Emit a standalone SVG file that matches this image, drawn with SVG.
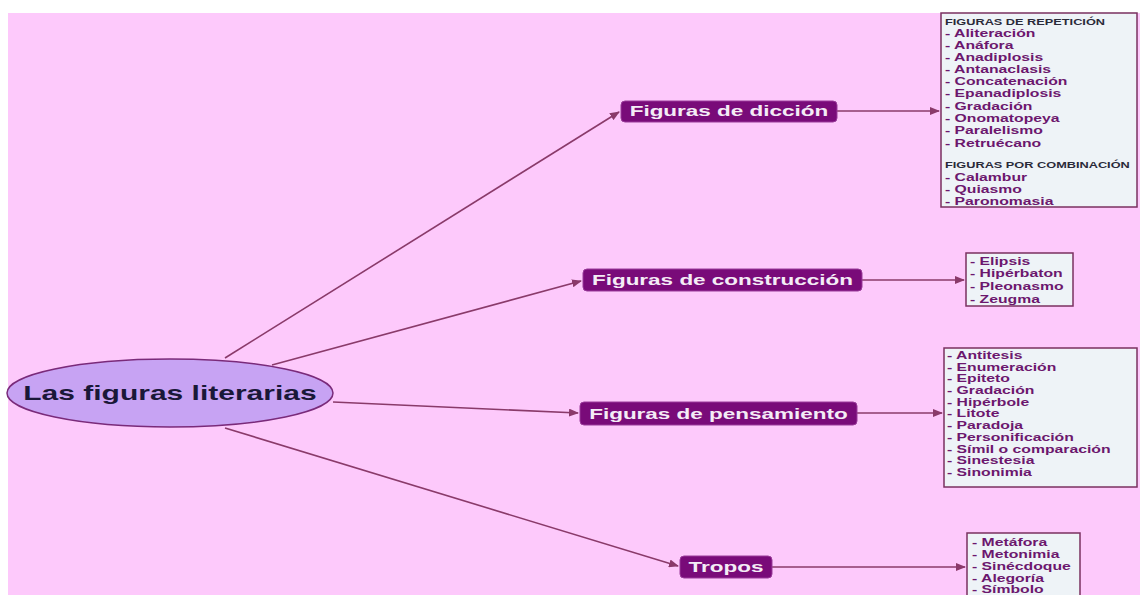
<svg xmlns="http://www.w3.org/2000/svg" width="1140" height="595" viewBox="0 0 1140 595">
<style>
.bg{fill:#fdc9fb}
.node rect{fill:#790b79;stroke:#9a3a9a;stroke-width:1}
.node text{font-family:"Liberation Sans",Arial,sans-serif;font-weight:bold;font-size:15px;fill:#f4ecf6;text-anchor:middle}
.box{fill:#eef3f7;stroke:#7a3060;stroke-width:1.5}
.lst{font-family:"Liberation Sans",Arial,sans-serif;font-weight:bold;font-size:10.5px;fill:#6c176e}
.hd{font-family:"Liberation Sans",Arial,sans-serif;font-weight:bold;font-size:8.5px;fill:#2a2a3a}
.con{stroke:#8a3a6a;stroke-width:1.6;fill:none;marker-end:url(#ah)}
</style>
<defs>
<marker id="ah" markerWidth="10" markerHeight="8" refX="9" refY="4" orient="auto" markerUnits="userSpaceOnUse">
<path d="M0,0 L10,4 L0,8 Z" fill="#8a3a6a"/>
</marker>
</defs>
<rect x="0" y="0" width="1140" height="595" fill="#ffffff"/>
<rect class="bg" x="8" y="13" width="1132" height="582"/>

<g id="connectors">
<line class="con" x1="225" y1="358" x2="619" y2="112"/>
<line class="con" x1="272" y1="365" x2="581" y2="281"/>
<line class="con" x1="333" y1="402" x2="578" y2="413"/>
<line class="con" x1="225" y1="428" x2="678" y2="566"/>
<line class="con" x1="837" y1="111" x2="939" y2="111"/>
<line class="con" x1="862" y1="280" x2="964" y2="280"/>
<line class="con" x1="857" y1="413" x2="942" y2="413"/>
<line class="con" x1="772" y1="567" x2="965" y2="567"/>
</g>

<g id="root">
<ellipse cx="170" cy="393" rx="163" ry="34" fill="#c7a3f3" stroke="#7a2a7a" stroke-width="1.5"/>
<text transform="scale(1.5 1)" x="113.3" y="400" text-anchor="middle" font-family="'Liberation Sans',Arial,sans-serif" font-weight="bold" font-size="20" fill="#1a1838">Las figuras literarias</text>
</g>

<g id="n-diccion" class="node">
<rect x="621" y="101" width="216" height="21" rx="4"/>
<text transform="scale(1.5 1)" x="486" y="116.5">Figuras de dicción</text>
</g>
<g id="n-construccion" class="node">
<rect x="583" y="269" width="279" height="22" rx="4"/>
<text transform="scale(1.5 1)" x="481.67" y="285.5">Figuras de construcción</text>
</g>
<g id="n-pensamiento" class="node">
<rect x="580" y="402" width="277" height="23" rx="4"/>
<text transform="scale(1.5 1)" x="479" y="419">Figuras de pensamiento</text>
</g>
<g id="n-tropos" class="node">
<rect x="680" y="556" width="92" height="22" rx="4"/>
<text transform="scale(1.5 1)" x="484" y="572.5">Tropos</text>
</g>

<g id="b-diccion">
<rect class="box" x="941" y="13" width="196" height="194"/>
<g transform="scale(1.5 1)">
<text class="hd" x="630" y="25">FIGURAS DE REPETICIÓN</text>
<text class="lst" x="630" y="37">- Aliteración</text>
<text class="lst" x="630" y="49">- Anáfora</text>
<text class="lst" x="630" y="61">- Anadiplosis</text>
<text class="lst" x="630" y="73">- Antanaclasis</text>
<text class="lst" x="630" y="85">- Concatenación</text>
<text class="lst" x="630" y="97.5">- Epanadiplosis</text>
<text class="lst" x="630" y="110">- Gradación</text>
<text class="lst" x="630" y="122">- Onomatopeya</text>
<text class="lst" x="630" y="134">- Paralelismo</text>
<text class="lst" x="630" y="147">- Retruécano</text>
<text class="hd" x="630" y="168">FIGURAS POR COMBINACIÓN</text>
<text class="lst" x="630" y="181">- Calambur</text>
<text class="lst" x="630" y="193">- Quiasmo</text>
<text class="lst" x="630" y="205">- Paronomasia</text>
</g>
</g>

<g id="b-construccion">
<rect class="box" x="966" y="253" width="107" height="53"/>
<g transform="scale(1.5 1)">
<text class="lst" x="646.67" y="265">- Elipsis</text>
<text class="lst" x="646.67" y="277.5">- Hipérbaton</text>
<text class="lst" x="646.67" y="290.5">- Pleonasmo</text>
<text class="lst" x="646.67" y="303">- Zeugma</text>
</g>
</g>

<g id="b-pensamiento">
<rect class="box" x="944" y="348" width="193" height="139"/>
<g transform="scale(1.5 1)">
<text class="lst" x="631.33" y="359">- Antitesis</text>
<text class="lst" x="631.33" y="370.7">- Enumeración</text>
<text class="lst" x="631.33" y="382.4">- Epiteto</text>
<text class="lst" x="631.33" y="394.1">- Gradación</text>
<text class="lst" x="631.33" y="405.8">- Hipérbole</text>
<text class="lst" x="631.33" y="417.5">- Litote</text>
<text class="lst" x="631.33" y="429.2">- Paradoja</text>
<text class="lst" x="631.33" y="440.9">- Personificación</text>
<text class="lst" x="631.33" y="452.6">- Símil o comparación</text>
<text class="lst" x="631.33" y="464.3">- Sinestesia</text>
<text class="lst" x="631.33" y="476">- Sinonimia</text>
</g>
</g>

<g id="b-tropos">
<rect class="box" x="967" y="533" width="113" height="70"/>
<g transform="scale(1.5 1)">
<text class="lst" x="648" y="546">- Metáfora</text>
<text class="lst" x="648" y="558">- Metonimia</text>
<text class="lst" x="648" y="570">- Sinécdoque</text>
<text class="lst" x="648" y="582">- Alegoría</text>
<text class="lst" x="648" y="593.5">- Símbolo</text>
</g>
</g>
</svg>
